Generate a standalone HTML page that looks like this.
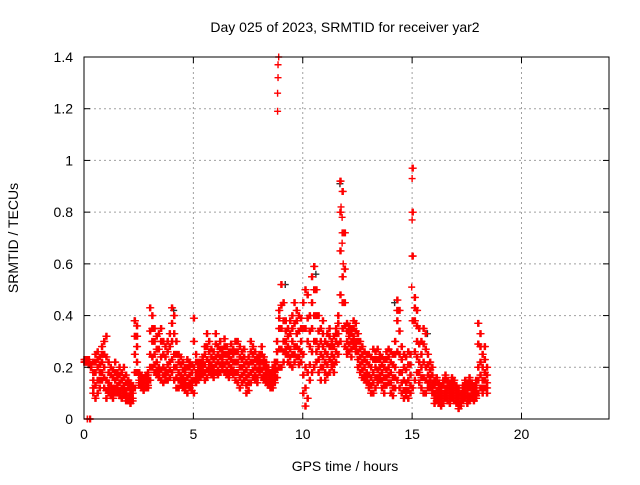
<!DOCTYPE html>
<html><head><meta charset="utf-8"><style>
body{margin:0;background:#fff}
svg text{font-family:"Liberation Sans",sans-serif;font-size:14px;fill:#000}
</style></head><body>
<svg id="chart" width="640" height="480" xmlns="http://www.w3.org/2000/svg">
<rect width="640" height="480" fill="#fff"/>
<g id="grid"></g>
<g id="marks"></g>
<g id="axes"></g>
<text x="345" y="32" text-anchor="middle">Day 025 of 2023, SRMTID for receiver yar2</text>
<text x="345" y="471" text-anchor="middle">GPS time / hours</text>
<text transform="translate(18,238) rotate(-90)" text-anchor="middle">SRMTID / TECUs</text>
</svg>
<script>
const xTicks=[0,5,10,15,20];
const yTicks=[0,0.2,0.4,0.6,0.8,1,1.2,1.4];
const yTickLabels=["0","0.2","0.4","0.6","0.8","1","1.2","1.4"];
const t0=0, tStep=0.1;
const lo=[.22,.22,.22,.20,.10,.08,.10,.12,.15,.12, .08,.10,.09,.08,.10,.10,.09,.08,.09,.07, .07,.06,.07,.12,.18,.13,.12,.11,.12,.12, .15,.20,.18,.17,.16,.15,.14,.15,.15,.16, .18,.15,.12,.12,.13,.12,.11,.10,.12,.11, .10,.14,.15,.16,.17,.15,.16,.18,.17,.16, .18,.17,.18,.19,.18,.17,.16,.18,.17,.15, .14,.12,.14,.15,.10,.11,.14,.16,.15,.14, .18,.16,.15,.14,.13,.12,.12,.14,.16,.20, .20,.22,.25,.22,.21,.20,.22,.24,.21,.22, .10,.05,.08,.15,.18,.20,.22,.18,.15,.20, .15,.17,.18,.20,.18,.22,.25,.30,.35,.28, .25,.26,.24,.28,.26,.20,.18,.16,.15,.14, .12,.10,.10,.12,.14,.15,.12,.10,.13,.14, .10,.09,.12,.15,.12,.10,.08,.09,.08,.10, .12,.15,.18,.14,.12,.10,.10,.12,.12,.10, .06,.07,.06,.05,.06,.08,.07,.06,.08,.07, .06,.04,.05,.07,.08,.06,.07,.08,.07,.08, .10,.12,.10,.12,.10];
const hi=[.23,.23,.23,.21,.22,.25,.26,.24,.28,.30, .32,.22,.20,.19,.22,.18,.20,.18,.20,.17, .15,.14,.13,.38,.36,.18,.17,.16,.17,.18, .43,.40,.35,.32,.33,.35,.30,.28,.30,.33, .43,.40,.30,.25,.24,.22,.20,.23,.22,.21, .39,.25,.22,.22,.24,.28,.33,.30,.27,.26, .33,.28,.30,.27,.31,.28,.26,.29,.27,.30, .30,.28,.26,.27,.22,.24,.30,.28,.26,.24, .25,.28,.24,.22,.20,.18,.20,.22,.30,.42, .52,.45,.38,.35,.38,.40,.45,.42,.40,.39, .45,.50,.48,.40,.55,.59,.50,.40,.35,.38, .30,.33,.35,.30,.32,.35,.40,.92,.88,.72, .37,.36,.35,.38,.37,.33,.30,.28,.26,.25, .25,.24,.27,.26,.27,.25,.24,.23,.26,.27, .26,.25,.30,.46,.42,.28,.25,.24,.26,.25, .97,.47,.42,.35,.30,.35,.33,.25,.22,.20, .15,.16,.14,.13,.15,.17,.15,.14,.16,.15, .13,.12,.10,.13,.15,.14,.16,.14,.13,.15, .37,.33,.25,.28,.20];
const mid=[.22,.22,.22,.20,.15,.18,.20,.18,.22,.20, .15,.14,.13,.12,.15,.13,.14,.12,.13,.11, .12,.10,.10,.25,.28,.15,.14,.14,.15,.15, .25,.30,.25,.22,.20,.24,.20,.19,.21,.22, .30,.25,.20,.18,.17,.16,.15,.16,.17,.15, .20,.18,.19,.19,.20,.21,.23,.22,.21,.20, .24,.22,.24,.23,.25,.22,.21,.23,.22,.22, .22,.20,.20,.21,.16,.17,.22,.22,.20,.19, .21,.22,.20,.18,.16,.15,.16,.18,.22,.35, .35,.30,.30,.28,.27,.30,.28,.33,.27,.30, .25,.20,.30,.28,.35,.40,.30,.28,.25,.28, .22,.25,.28,.25,.24,.30,.33,.65,.55,.45, .30,.32,.30,.32,.30,.26,.24,.22,.20,.18, .17,.16,.18,.20,.19,.20,.18,.16,.19,.20, .18,.16,.20,.38,.25,.18,.15,.14,.15,.17, .63,.38,.30,.22,.20,.22,.20,.17,.16,.14, .10,.11,.10,.09,.10,.12,.11,.10,.12,.11, .09,.08,.07,.10,.11,.10,.12,.11,.10,.11, .20,.22,.15,.18,.14];
const q1=[.22,.22,.21,.20,.12,.13,.15,.15,.18,.16, .11,.12,.11,.10,.12,.11,.11,.10,.11,.09, .09,.08,.08,.18,.22,.14,.13,.12,.13,.13, .20,.24,.21,.19,.18,.19,.17,.17,.18,.19, .23,.20,.16,.15,.15,.14,.13,.13,.14,.13, .15,.16,.17,.17,.18,.18,.19,.20,.19,.18, .21,.19,.21,.21,.21,.19,.18,.20,.19,.18, .18,.16,.17,.18,.13,.14,.18,.19,.17,.16, .19,.19,.17,.16,.14,.13,.14,.16,.19,.27, .27,.26,.27,.25,.24,.25,.25,.28,.24,.26, .17,.12,.18,.21,.26,.30,.26,.23,.20,.24, .18,.21,.23,.22,.21,.26,.29,.48,.45,.36, .27,.29,.27,.30,.28,.23,.21,.19,.17,.16, .14,.13,.14,.16,.16,.17,.15,.13,.16,.17, .14,.12,.16,.26,.18,.14,.11,.11,.11,.13, .38,.26,.24,.18,.16,.16,.15,.14,.14,.12, .08,.09,.08,.07,.08,.10,.09,.08,.10,.09, .07,.06,.06,.08,.09,.08,.09,.09,.08,.09, .15,.17,.12,.15,.12];
const q3=[.23,.23,.22,.21,.18,.22,.23,.21,.25,.25, .24,.18,.17,.16,.18,.16,.17,.15,.16,.14, .14,.12,.12,.32,.32,.17,.16,.15,.16,.17, .34,.35,.30,.27,.27,.30,.25,.24,.26,.28, .37,.33,.25,.22,.21,.19,.18,.20,.20,.18, .30,.22,.21,.21,.22,.25,.28,.26,.24,.23, .29,.25,.27,.25,.28,.25,.24,.26,.25,.26, .26,.24,.23,.24,.19,.21,.26,.25,.23,.22, .23,.25,.22,.20,.18,.17,.18,.20,.26,.39, .44,.38,.34,.32,.33,.35,.37,.38,.34,.35, .35,.35,.39,.34,.45,.50,.40,.34,.30,.33, .26,.29,.32,.28,.28,.33,.37,.80,.72,.58, .34,.34,.33,.35,.34,.30,.27,.25,.23,.22, .21,.20,.23,.23,.23,.23,.21,.20,.23,.24, .22,.21,.25,.42,.34,.23,.20,.19,.21,.21, .80,.43,.36,.29,.25,.29,.27,.21,.19,.17, .13,.14,.12,.11,.13,.15,.13,.12,.14,.13, .11,.10,.09,.12,.13,.12,.14,.13,.12,.13, .29,.28,.20,.23,.17];
const extraT=[8.85,8.85,8.87,8.87,8.9,11.75,11.8,11.8,11.85,15.0,15.0,14.98,15.0,0.15,0.25,0.3];
const extraV=[1.19,1.26,1.32,1.37,1.40,0.82,0.78,0.68,0.60,0.93,0.77,0.51,0.63,0,0,0];
const darkT=[0.1,11.7,9.2,14.2,15.7,18.3,4.1,2.3,10.6];
const darkV=[0.23,0.91,0.52,0.45,0.33,0.12,0.42,0.38,0.56];

const X0=84,X1=609,Y0=419,Y1=57;
const xs=t=>X0+(t/24)*(X1-X0);
const ys=v=>Y0-(v/1.4)*(Y0-Y1);
const NS="http://www.w3.org/2000/svg";
function mk(tag,parent){const e=document.createElementNS(NS,tag);parent.appendChild(e);return e;}
const grid=document.getElementById('grid'),axes=document.getElementById('axes'),marks=document.getElementById('marks');
xTicks.forEach(t=>{
  const x=xs(t);
  if(t>0){const g=mk('line',grid);g.setAttribute('x1',x);g.setAttribute('x2',x);g.setAttribute('y1',Y1);g.setAttribute('y2',Y0);g.setAttribute('stroke','#a0a0a0');g.setAttribute('stroke-dasharray','2,3');
  
  }
  [[Y0,Y0-6],[Y1,Y1+6]].forEach(p=>{const l=mk('line',axes);l.setAttribute('x1',x);l.setAttribute('x2',x);l.setAttribute('y1',p[0]);l.setAttribute('y2',p[1]);l.setAttribute('stroke','#000');});
  const tx=mk('text',axes);tx.setAttribute('x',x);tx.setAttribute('y',Y0+20);tx.setAttribute('text-anchor','middle');tx.textContent=t;
  
  
});
yTicks.forEach((v,i)=>{
  const y=ys(v);
  if(v>0&&v<1.4){const g=mk('line',grid);g.setAttribute('x1',X0);g.setAttribute('x2',X1);g.setAttribute('y1',y);g.setAttribute('y2',y);g.setAttribute('stroke','#a0a0a0');g.setAttribute('stroke-dasharray','2,3');
  
  }
  [[X0,X0+6],[X1,X1-6]].forEach(p=>{const l=mk('line',axes);l.setAttribute('y1',y);l.setAttribute('y2',y);l.setAttribute('x1',p[0]);l.setAttribute('x2',p[1]);l.setAttribute('stroke','#000');});
  const tx=mk('text',axes);tx.setAttribute('x',X0-11);tx.setAttribute('y',y+5);tx.setAttribute('text-anchor','end');tx.textContent=yTickLabels[i];
  
  
});
const border=mk('rect',axes);border.setAttribute('x',X0);border.setAttribute('y',Y1);border.setAttribute('width',X1-X0);border.setAttribute('height',Y0-Y1);border.setAttribute('fill','none');border.setAttribute('stroke','#000');


function plus(t,v,color){
  const x=xs(t),y=ys(v);
  const p=mk('path',marks);
  p.setAttribute('d',`M${x-3.5},${y}H${x+3.5}M${x},${y-3.5}V${y+3.5}`);
  p.setAttribute('stroke',color);p.setAttribute('stroke-width','1.4');
  
  
}
darkT.forEach((t,i)=>plus(t,darkV[i],'#303030'));
[lo,q1,mid,q3,hi].forEach((arr,k)=>arr.forEach((v,i)=>{plus(t0+i*tStep,v,'#ff0000');plus(t0+i*tStep+0.05,v,'#ff0000');}));
extraT.forEach((t,i)=>plus(t,extraV[i],'#ff0000'));
</script>
</body></html>
